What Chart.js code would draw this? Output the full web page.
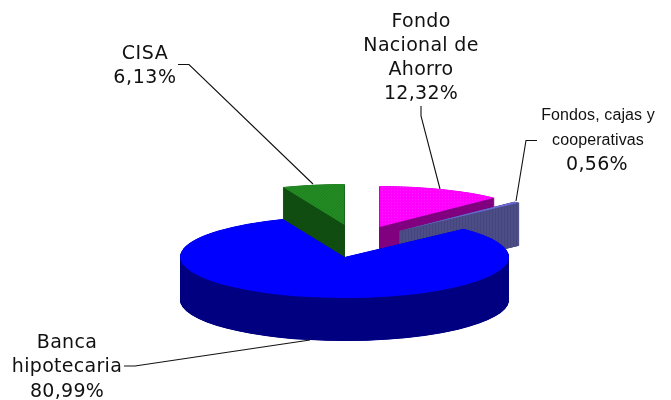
<!DOCTYPE html>
<html><head><meta charset="utf-8">
<style>html,body{margin:0;padding:0;background:#fff}canvas{display:block}</style>
<script src="https://cdn.jsdelivr.net/npm/chart.js@4"></script>
</head><body>
<canvas id="c" width="671" height="400"></canvas>
<script>
const categories = ["Fondo Nacional de Ahorro", "Fondos, cajas y cooperativas", "Banca hipotecaria", "CISA"];
const shares = [12.32, 0.56, 80.99, 6.13];
const shareLabels = ["12,32%", "0,56%", "80,99%", "6,13%"];

const topColors = ["#ff00ff", "#6a6ad8", "#0000ff", "#228b22"];
const wallColors = ["#800080", "#4a4a82", "#000080", "#114f11"];
const wallBorders = [0, 2, 0, 0];
const paintOrder = [3, 0, 1, 2];

const CENTER = {x: 344.5, y: 257};
const RX = 164.5, RY = 41, DEPTH = 43, STEP = 0.25;
const explode = [{x: 35, y: -30}, {x: 55, y: -26}, {x: 0, y: 0}, {x: 0, y: -32}];

const labelBlocks = [
  {lines: ["Fondo", "Nacional de", "Ahorro", "12,32%"], x: 421, y: 22.5, step: 24, font: "19px 'DejaVu Sans'", spacing: "0.3px"},
  {lines: ["Fondos, cajas y", "cooperativas"], x: 598, y: 116, step: 25, font: "16px 'Liberation Sans'", spacing: "0.1px"},
  {lines: ["0,56%"], x: 597, y: 165.5, step: 24, font: "19px 'DejaVu Sans'", spacing: "0.3px"},
  {lines: ["Banca", "hipotecaria", "80,99%"], x: 67, y: 343, step: 24.5, font: "19px 'DejaVu Sans'", spacing: "0.3px"},
  {lines: ["CISA", "6,13%"], x: 145, y: 54, step: 24, font: "19px 'DejaVu Sans'", spacing: "0.6px"}
];
const leaders = [
  [[421, 106], [421, 116], [440, 189]],
  [[537, 140.5], [526, 140.5], [516, 201]],
  [[124, 366], [135, 366], [310, 340]],
  [[178, 64.5], [189, 64.5], [313, 184]]
];

function texture(a, b, w, h, dots) {
  const t = document.createElement("canvas");
  t.width = w; t.height = h;
  const g = t.getContext("2d");
  g.fillStyle = a; g.fillRect(0, 0, w, h);
  g.fillStyle = b;
  dots.forEach(d => g.fillRect(d[0], d[1], 1, 1));
  return t;
}
const topTex = [
  texture("#ff00ff", "#ff20ff", 3, 3, [[1, 1]]),
  null, null,
  texture("#228b22", "#1e8020", 3, 3, [[0, 0], [2, 1], [1, 2]])
];
const wallTex = [
  null,
  texture("#4c4c86", "#46467e", 3, 1, [[0, 0]]),
  null,
  texture("#114f11", "#0f4810", 3, 3, [[0, 0], [2, 1], [1, 2]])
];
function fillFor(ctx, tex, color) {
  if (!tex) return color;
  const p = ctx.createPattern(tex, "repeat");
  p.setTransform(ctx.getTransform().inverse());
  return p;
}

const pie3d = {
  id: "pie3d",
  beforeDatasetsDraw(chart) {
    const ctx = chart.ctx, arcs = chart.getDatasetMeta(0).data;
    paintOrder.forEach(i => {
      const arc = arcs[i], base = arc.options;
      const sx = RX / arc.outerRadius, sy = RY / arc.outerRadius;
      const layer = (dy, tex, color, bw) => {
        ctx.save();
        ctx.translate(CENTER.x + explode[i].x, CENTER.y + explode[i].y + dy);
        ctx.scale(sx, sy);
        ctx.translate(-arc.x, -arc.y);
        const fill = fillFor(ctx, tex, color);
        arc.options = Object.assign({}, base, {backgroundColor: fill, borderColor: fill, borderWidth: bw});
        arc.draw(ctx);
        ctx.restore();
      };
      for (let d = DEPTH; d > 0; d -= STEP) layer(d, wallTex[i], wallColors[i], wallBorders[i]);
      layer(0, topTex[i], topColors[i], 0);
      arc.options = base;
    });
    return false;
  },
  afterDraw(chart) {
    const ctx = chart.ctx;
    ctx.save();
    ctx.strokeStyle = "#111"; ctx.lineWidth = 1.1;
    leaders.forEach(l => {
      ctx.beginPath();
      l.forEach((p, k) => k ? ctx.lineTo(p[0], p[1]) : ctx.moveTo(p[0], p[1]));
      ctx.stroke();
    });
    ctx.fillStyle = "#111"; ctx.textAlign = "center"; ctx.textBaseline = "middle";
    labelBlocks.forEach(b => {
      ctx.font = b.font;
      ctx.letterSpacing = b.spacing;
      b.lines.forEach((t, k) => ctx.fillText(t, b.x, b.y + k * b.step));
    });
    ctx.restore();
  }
};

new Chart(document.getElementById("c"), {
  type: "pie",
  data: {labels: categories, datasets: [{data: shares, backgroundColor: topColors, borderWidth: 0}]},
  options: {
    responsive: false, animation: false, rotation: 0,
    plugins: {legend: {display: false}, tooltip: {enabled: false}}
  },
  plugins: [pie3d]
});
</script>
</body></html>
